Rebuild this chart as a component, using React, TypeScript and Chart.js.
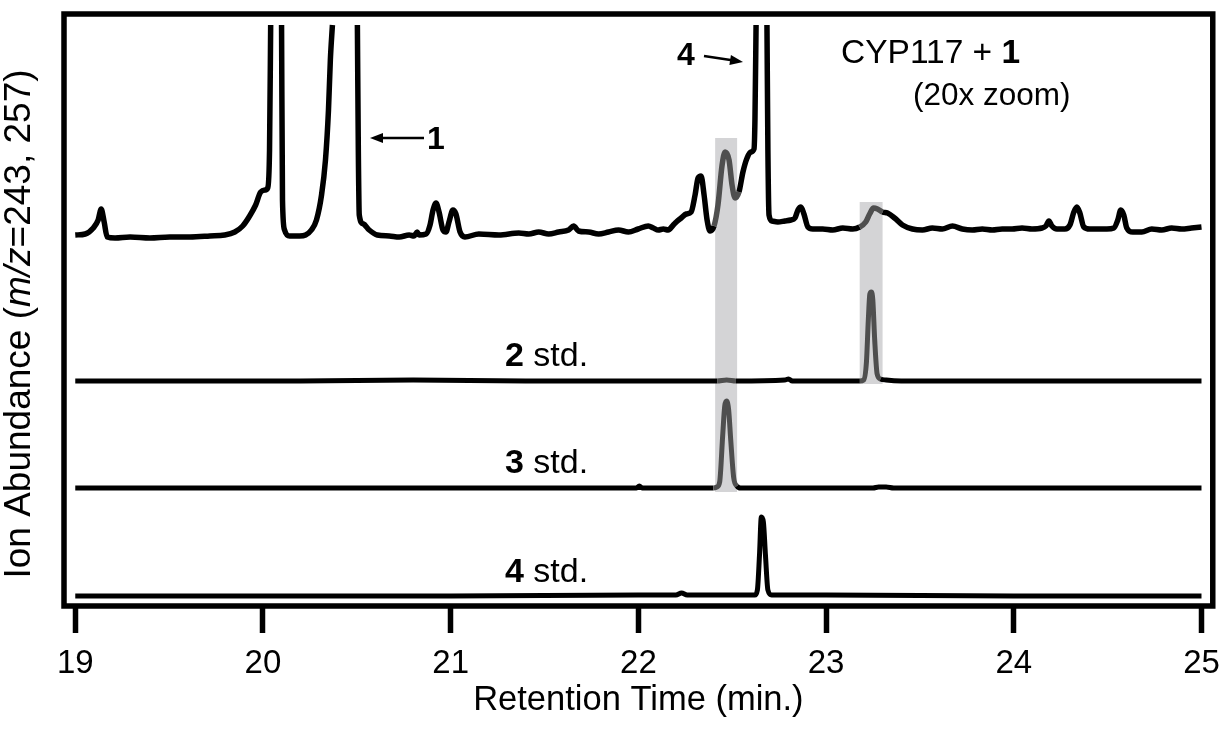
import React, { useEffect, useRef } from 'react';
import { Chart, registerables } from 'chart.js';

Chart.register(...registerables);

const FONT = '"Liberation Sans", Arial, Helvetica, sans-serif';

// Retention-time axis ticks (min.)
const xTicks = [19, 20, 21, 22, 23, 24, 25];

// CYP117 + 1 trace (20x zoom), offset stacked on top; peaks clipped (null = break)
const cypTime = [
  19.0, 19.053, 19.096, 19.122, 19.138, 19.154, 19.17, 19.212, 19.292, 19.398, 19.504, 19.611, 19.717, 19.796,
  19.85, 19.892, 19.929, 19.961, 19.988, 20.014, 20.025, 20.035, 20.041, 20.07, 20.099, 20.104, 20.115, 20.142,
  20.195, 20.227, 20.258, 20.285, 20.312, 20.333, 20.349, 20.359, 20.37, 20.44, 20.503, 20.508, 20.513, 20.535,
  20.566, 20.609, 20.673, 20.726, 20.779, 20.805, 20.821, 20.832, 20.869, 20.89, 20.906, 20.922, 20.938, 20.959,
  20.975, 20.991, 21.012, 21.028, 21.05, 21.076, 21.15, 21.257, 21.363, 21.416, 21.469, 21.522, 21.575, 21.628,
  21.655, 21.681, 21.735, 21.788, 21.841, 21.894, 21.947, 21.999, 22.053, 22.08, 22.106, 22.133, 22.159, 22.186,
  22.202, 22.228, 22.255, 22.281, 22.302, 22.318, 22.334, 22.35, 22.366, 22.382, 22.403, 22.424, 22.446, 22.462,
  22.483, 22.499, 22.515, 22.536, 22.557, 22.579, 22.6, 22.616, 22.621, 22.627, 22.656, 22.685, 22.69, 22.696,
  22.712, 22.743, 22.78, 22.812, 22.834, 22.85, 22.866, 22.882, 22.903, 22.929, 22.982, 23.035, 23.089, 23.142,
  23.179, 23.211, 23.232, 23.253, 23.274, 23.301, 23.327, 23.365, 23.407, 23.46, 23.513, 23.566, 23.619, 23.673,
  23.726, 23.779, 23.832, 23.885, 23.938, 23.991, 24.044, 24.097, 24.15, 24.171, 24.187, 24.203, 24.23, 24.272,
  24.299, 24.32, 24.336, 24.352, 24.373, 24.405, 24.443, 24.496, 24.533, 24.554, 24.57, 24.586, 24.602, 24.634,
  24.682, 24.735, 24.788, 24.841, 24.894, 24.947, 25.0,
];
const cypSignal: (number | null)[] = [
  371, 372, 378, 386, 397, 384, 369, 368, 369, 368, 369, 369, 370, 371,
  374, 380, 390, 401, 414, 416, 418, 456, 581, null, 581, 406, 376, 370,
  370, 371, 376, 386, 411, 446, 496, 546, 581, null, 581, 456, 391, 382,
  376, 371, 370, 369, 371, 370, 374, 371, 372, 381, 396, 403, 394, 376,
  374, 384, 396, 392, 374, 369, 372, 371, 373, 372, 374, 372, 374, 376,
  380, 375, 374, 372, 374, 376, 374, 377, 380, 378, 376, 377, 376, 381,
  384, 388, 392, 394, 411, 428, 430, 411, 386, 375, 380, 401, 441, 454,
  446, 421, 408, 414, 434, 448, 454, 457, 486, 581, null, 581, 456, 391,
  385, 384, 385, 386, 388, 396, 399, 392, 379, 377, 377, 376, 378, 377,
  379, 384, 392, 398, 397, 394, 393, 388, 381, 377, 376, 378, 377, 380,
  377, 376, 377, 376, 377, 377, 378, 377, 378, 380, 385, 380, 377, 377,
  381, 394, 399, 393, 379, 377, 377, 377, 378, 386, 396, 391, 378, 374,
  374, 377, 376, 378, 377, 378, 379,
];

// 2 std. trace
const std2Time = [
  19.0, 19.6, 20.2, 20.8, 21.4, 22.0, 22.3, 22.42, 22.47, 22.52, 22.78, 22.8, 22.82, 23.0, 23.18, 23.2, 23.215,
  23.225, 23.233, 23.241, 23.249, 23.259, 23.272, 23.29, 23.32, 23.4, 24.0, 24.5, 25.0,
];
const std2Signal = [
  225, 225, 225, 226, 225, 225, 225, 225, 226, 225, 226, 227, 225, 225, 225, 226, 244,
  286, 312, 314, 306, 266, 232, 227, 226, 225, 225, 225, 225,
];

// 3 std. trace
const std3Time = [
  19.0, 20.0, 21.0, 21.99, 22.005, 22.02, 22.3, 22.4, 22.418, 22.433, 22.449, 22.46, 22.47, 22.481, 22.492,
  22.508, 22.525, 22.545, 23.0, 23.25, 23.28, 23.32, 23.36, 24.0, 25.0,
];
const std3Signal = [
  118, 118, 118, 118, 120, 118, 118, 118, 119, 124, 170, 200, 205, 196, 166,
  128, 120, 118, 118, 118, 119, 119, 118, 118, 118,
];

// 4 std. trace
const std4Time = [
  19.0, 20.0, 21.0, 22.0, 22.2, 22.23, 22.26, 22.56, 22.62, 22.634, 22.645, 22.655, 22.666, 22.677, 22.69, 22.71,
  23.0, 24.0, 25.0,
];
const std4Signal = [10, 10, 10, 11, 11, 13, 11, 11, 11, 16, 50, 89, 84, 51, 16, 11, 11, 10, 10];

// Highlight bands (retention-time window and abundance extent)
const bandStart = [22.409, 23.179];
const bandEnd = [22.526, 23.301];
const bandTop = [468, 404];
const bandBottom = [114, 222];

const BAND_FILL = '#d4d4d6';
const BAND_LINE = '#4f4f4f';

const inBand = (x: number, y: number) =>
  bandStart.some((s, i) => x >= s && x <= bandEnd[i] && y >= bandBottom[i] && y <= bandTop[i]);

const toPoints = (xs: number[], ys: (number | null)[]) => xs.map((x, i) => ({ x, y: ys[i] }));

type Run = { text: string; font: string };

function drawRuns(ctx: CanvasRenderingContext2D, runs: Run[], x: number, y: number) {
  let cx = x;
  for (const r of runs) {
    ctx.font = r.font;
    ctx.fillText(r.text, cx, y);
    cx += ctx.measureText(r.text).width;
  }
}

function runsWidth(ctx: CanvasRenderingContext2D, runs: Run[]) {
  let w = 0;
  for (const r of runs) {
    ctx.font = r.font;
    w += ctx.measureText(r.text).width;
  }
  return w;
}

function arrow(ctx: CanvasRenderingContext2D, x1: number, y1: number, x2: number, y2: number) {
  const ang = Math.atan2(y2 - y1, x2 - x1);
  const hl = 13;
  const hw = 5;
  const bx = x2 - hl * Math.cos(ang);
  const by = y2 - hl * Math.sin(ang);
  ctx.beginPath();
  ctx.moveTo(x1, y1);
  ctx.lineTo(bx + 2 * Math.cos(ang), by + 2 * Math.sin(ang));
  ctx.lineWidth = 2.5;
  ctx.strokeStyle = '#000';
  ctx.stroke();
  ctx.beginPath();
  ctx.moveTo(x2, y2);
  ctx.lineTo(bx - hw * Math.sin(ang), by + hw * Math.cos(ang));
  ctx.lineTo(bx + hw * Math.sin(ang), by - hw * Math.cos(ang));
  ctx.closePath();
  ctx.fillStyle = '#000';
  ctx.fill();
}

const bandPlugin = {
  id: 'bands',
  beforeDatasetsDraw(chart: any) {
    const { ctx, scales } = chart;
    const x = scales.x;
    const y = scales.y;
    ctx.save();
    ctx.fillStyle = BAND_FILL;
    bandStart.forEach((s, i) => {
      const l = x.getPixelForValue(s);
      const r = x.getPixelForValue(bandEnd[i]);
      const t = y.getPixelForValue(bandTop[i]);
      const b = y.getPixelForValue(bandBottom[i]);
      ctx.fillRect(l, t, r - l, b - t);
    });
    ctx.restore();
  },
};

const decorPlugin = {
  id: 'decor',
  afterDraw(chart: any) {
    const { ctx, chartArea } = chart;
    ctx.save();
    // frame
    ctx.strokeStyle = '#000';
    ctx.lineWidth = 5.5;
    ctx.strokeRect(chartArea.left, chartArea.top, chartArea.right - chartArea.left, chartArea.bottom - chartArea.top);

    ctx.fillStyle = '#000';
    ctx.textAlign = 'left';
    ctx.textBaseline = 'alphabetic';
    const reg = (s: number) => `${s}px ${FONT}`;
    const bold = (s: number) => `bold ${s}px ${FONT}`;
    const ital = (s: number) => `italic ${s}px ${FONT}`;

    drawRuns(ctx, [{ text: 'CYP117 + ', font: reg(33.5) }, { text: '1', font: bold(33.5) }], 841, 63);
    drawRuns(ctx, [{ text: '(20x zoom)', font: reg(31.5) }], 913, 105);

    drawRuns(ctx, [{ text: '4', font: bold(32) }], 677, 65);
    arrow(ctx, 704, 56, 743, 62);

    drawRuns(ctx, [{ text: '1', font: bold(32) }], 427, 149);
    arrow(ctx, 424, 138, 370, 138);

    drawRuns(ctx, [{ text: '2', font: bold(34) }, { text: ' std.', font: reg(34) }], 505, 366);
    drawRuns(ctx, [{ text: '3', font: bold(34) }, { text: ' std.', font: reg(34) }], 505, 473);
    drawRuns(ctx, [{ text: '4', font: bold(34) }, { text: ' std.', font: reg(34) }], 505, 582);

    // y-axis title
    const yRuns: Run[] = [
      { text: 'Ion Abundance (', font: reg(37) },
      { text: 'm/z', font: ital(37) },
      { text: '=243, 257)', font: reg(37) },
    ];
    const w = runsWidth(ctx, yRuns);
    ctx.translate(30, 324);
    ctx.rotate(-Math.PI / 2);
    drawRuns(ctx, yRuns, -w / 2, 0);
    ctx.restore();
  },
};

const lineDataset = (label: string, xs: number[], ys: (number | null)[], width: number) => ({
  label,
  data: toPoints(xs, ys),
  borderColor: '#000',
  borderWidth: width,
  pointRadius: 0,
  fill: false,
  spanGaps: false,
  cubicInterpolationMode: 'monotone' as const,
  borderJoinStyle: 'round' as const,
  borderCapStyle: 'butt' as const,
  segment: {
    borderColor: (c: any) => {
      const mx = (c.p0.parsed.x + c.p1.parsed.x) / 2;
      const my = (c.p0.parsed.y + c.p1.parsed.y) / 2;
      return inBand(mx, my) ? BAND_LINE : undefined;
    },
  },
});

export default function App() {
  const ref = useRef<HTMLCanvasElement | null>(null);

  useEffect(() => {
    if (!ref.current) return;
    const chart = new Chart(ref.current, {
      type: 'line',
      data: {
        datasets: [
          lineDataset('CYP117 + 1', cypTime, cypSignal, 5.5),
          lineDataset('2 std.', std2Time, std2Signal, 5),
          lineDataset('3 std.', std3Time, std3Signal, 5),
          lineDataset('4 std.', std4Time, std4Signal, 5),
        ],
      },
      options: {
        animation: false,
        responsive: false,
        devicePixelRatio: 1,
        layout: { padding: { left: 64, right: 15, top: 14, bottom: 0 } },
        plugins: {
          legend: { display: false },
          tooltip: { enabled: false },
          title: { display: false },
        },
        scales: {
          x: {
            type: 'linear',
            min: 18.94,
            max: 25.06,
            afterBuildTicks: (s: any) => {
              s.ticks = xTicks.map((v) => ({ value: v }));
            },
            afterFit: (s: any) => {
              s.height = 124;
            },
            grid: {
              display: true,
              drawOnChartArea: false,
              drawTicks: true,
              tickLength: 27,
              tickWidth: 5.5,
              tickColor: '#000',
            },
            border: { display: false },
            ticks: {
              font: { family: FONT, size: 33 },
              color: '#000',
              padding: 11,
              maxRotation: 0,
              autoSkip: false,
            },
            title: {
              display: true,
              text: 'Retention Time (min.)',
              font: { family: FONT, size: 34.5 },
              color: '#000',
              padding: { top: 0, bottom: 9 },
            },
          },
          y: { type: 'linear', display: false, min: 0, max: 592 },
        },
      },
      plugins: [bandPlugin, decorPlugin],
    } as any);
    return () => chart.destroy();
  }, []);

  return (
    <div style={{ position: 'absolute', left: 0, top: 0, width: 1231, height: 730, background: '#fff' }}>
      <canvas ref={ref} width={1231} height={730} style={{ display: 'block' }} />
    </div>
  );
}
